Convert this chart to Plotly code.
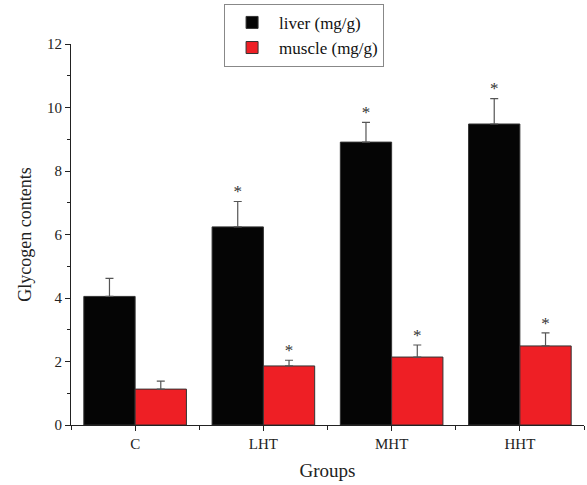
import plotly.graph_objects as go

groups = ["C", "LHT", "MHT", "HHT"]
liver = [4.05, 6.24, 8.91, 9.48]
liver_err = [0.57, 0.80, 0.62, 0.80]
muscle = [1.13, 1.86, 2.14, 2.49]
muscle_err = [0.25, 0.18, 0.38, 0.41]
liver_sig = ["", "*", "*", "*"]
muscle_sig = ["", "*", "*", "*"]

idx = list(range(len(groups)))
x_liver = [i - 0.2 for i in idx]
x_muscle = [i + 0.2 for i in idx]

FONT = "Liberation Serif"
fig = go.Figure()
fig.add_trace(go.Bar(
    x=x_liver, y=liver, width=0.4, name="liver (mg/g)",
    marker=dict(color="#050505", line=dict(color="#333333", width=1)),
    error_y=dict(type="data", array=liver_err, arrayminus=[0]*4, symmetric=False,
                 color="#555555", thickness=1.2, width=4),
))
fig.add_trace(go.Bar(
    x=x_muscle, y=muscle, width=0.4, name="muscle (mg/g)",
    marker=dict(color="#ee1f25", line=dict(color="#333333", width=1)),
    error_y=dict(type="data", array=muscle_err, arrayminus=[0]*4, symmetric=False,
                 color="#555555", thickness=1.2, width=4),
))
fig.add_trace(go.Scatter(
    x=x_liver, y=[v + e for v, e in zip(liver, liver_err)], mode="text",
    text=liver_sig, textposition="top center", showlegend=False,
    textfont=dict(family=FONT, size=17, color="#333333"), hoverinfo="skip"))
fig.add_trace(go.Scatter(
    x=x_muscle, y=[v + e for v, e in zip(muscle, muscle_err)], mode="text",
    text=muscle_sig, textposition="top center", showlegend=False,
    textfont=dict(family=FONT, size=17, color="#333333"), hoverinfo="skip"))

fig.update_layout(
    width=587, height=485,
    margin=dict(l=71, r=3, t=44, b=60, autoexpand=False),
    plot_bgcolor="white", paper_bgcolor="white",
    barmode="overlay",
    font=dict(family=FONT, size=14, color="#222222"),
    legend=dict(x=0.518, y=0.992, xref="container", yref="container", xanchor="center", yanchor="top",
                bordercolor="#888888", borderwidth=1, bgcolor="white",
                font=dict(family=FONT, size=17, color="#111111"),
                tracegroupgap=0, itemwidth=44),
    xaxis=dict(
        range=[-0.5, 3.5], tickvals=idx, ticktext=groups,
        showline=True, linecolor="#222222", linewidth=1,
        ticks="outside", ticklen=5, tickcolor="#222222",
        minor=dict(tickvals=[i + 0.5 for i in [-1] + idx], ticks="outside", ticklen=4, tickcolor="#222222"),
        showgrid=False, zeroline=False,
        title=dict(text="Groups", font=dict(family=FONT, size=19), standoff=12),
        tickfont=dict(family=FONT, size=15),
    ),
    yaxis=dict(
        range=[0, 12], dtick=2, tick0=0,
        showline=True, linecolor="#222222", linewidth=1,
        ticks="outside", ticklen=5, tickcolor="#222222",
        minor=dict(dtick=1, ticks="outside", ticklen=3, tickcolor="#222222"),
        showgrid=False, zeroline=False,
        title=dict(text="Glycogen contents", font=dict(family=FONT, size=18), standoff=10),
        tickfont=dict(family=FONT, size=15),
    ),
)
fig.write_html("out.html")
